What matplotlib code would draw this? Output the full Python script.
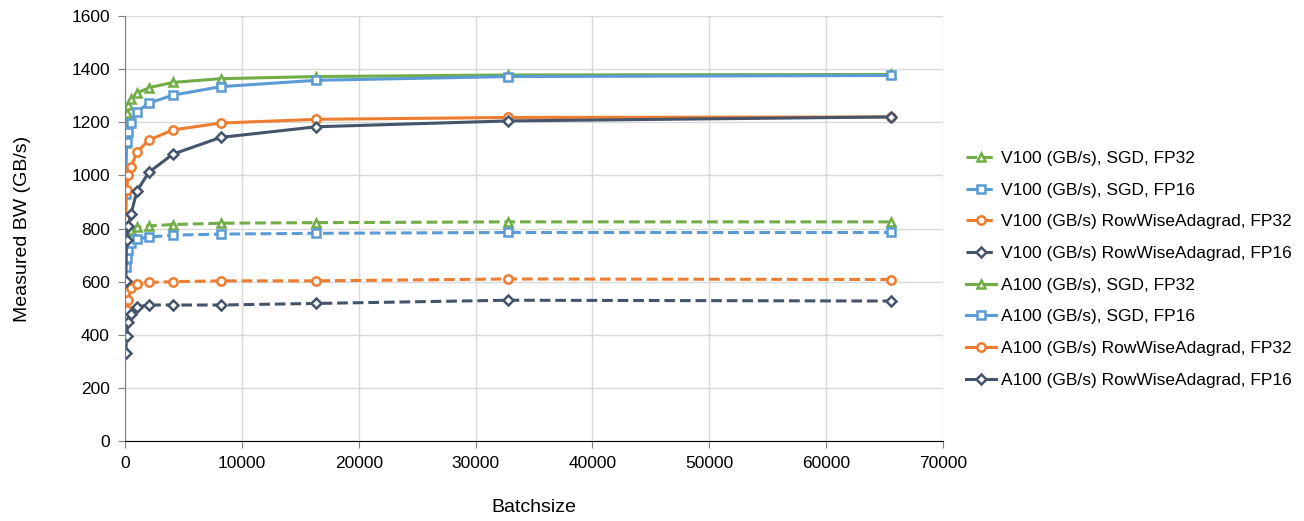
import matplotlib
matplotlib.use("Agg")
import matplotlib.pyplot as plt

plt.rcParams["font.family"] = ["Liberation Sans", "DejaVu Sans"]

batch = [64, 128, 256, 512, 1024, 2048, 4096, 8192, 16384, 32768, 65536]

v100_sgd_fp32 = [745, 772, 790, 796, 805, 810, 815, 820, 822, 825, 825]
v100_sgd_fp16 = [655, 690, 720, 745, 760, 768, 775, 779, 782, 785, 785]
v100_rwa_fp32 = [470, 495, 530, 575, 590, 597, 600, 603, 603, 610, 608]
v100_rwa_fp16 = [331, 395, 448, 478, 505, 512, 512, 512, 518, 530, 527]
a100_sgd_fp32 = [1122, 1235, 1265, 1288, 1310, 1330, 1350, 1364, 1372, 1378, 1380]
a100_sgd_fp16 = [930, 1127, 1165, 1198, 1240, 1272, 1302, 1334, 1358, 1372, 1376]
a100_rwa_fp32 = [835, 945, 1000, 1031, 1088, 1133, 1171, 1197, 1211, 1218, 1220]
a100_rwa_fp16 = [603, 757, 810, 855, 942, 1012, 1080, 1143, 1183, 1205, 1220]

green = "#70AD47"
blue = "#5B9BD5"
orange = "#ED7D31"
dark = "#44546A"

series = [
    ("V100 (GB/s), SGD, FP32", v100_sgd_fp32, green, "^", "--"),
    ("V100 (GB/s), SGD, FP16", v100_sgd_fp16, blue, "s", "--"),
    ("V100 (GB/s) RowWiseAdagrad, FP32", v100_rwa_fp32, orange, "o", "--"),
    ("V100 (GB/s) RowWiseAdagrad, FP16", v100_rwa_fp16, dark, "D", "--"),
    ("A100 (GB/s), SGD, FP32", a100_sgd_fp32, green, "^", "-"),
    ("A100 (GB/s), SGD, FP16", a100_sgd_fp16, blue, "s", "-"),
    ("A100 (GB/s) RowWiseAdagrad, FP32", a100_rwa_fp32, orange, "o", "-"),
    ("A100 (GB/s) RowWiseAdagrad, FP16", a100_rwa_fp16, dark, "D", "-"),
]

fig = plt.figure(figsize=(13.04, 5.21), dpi=100)
ax = fig.add_axes([0.0959, 0.1535, 0.6271, 0.8158])

for label, vals, color, marker, ls in series:
    ms = 6 if marker != "D" else 5
    line, = ax.plot(batch, vals, color=color, linestyle=ls, linewidth=2.2,
                    marker=marker, markersize=ms, markerfacecolor="white",
                    markeredgecolor=color, markeredgewidth=1.8, label=label)
    if ls == "--":
        line.set_dashes((3.5, 1.6))

ax.set_xlim(0, 70000)
ax.set_ylim(0, 1600)
ax.set_xticks(range(0, 70001, 10000))
ax.set_yticks(range(0, 1601, 200))
ax.grid(True, color="#D9D9D9", linewidth=1)
ax.set_axisbelow(True)
for s in ["top", "right"]:
    ax.spines[s].set_visible(False)
ax.spines["left"].set_color("#7F7F7F")
ax.spines["bottom"].set_color("black")
ax.tick_params(axis="both", labelsize=12.5, length=5, color="#7F7F7F", pad=6)
ax.set_xlabel("Batchsize", fontsize=14)
ax.set_ylabel("Measured BW (GB/s)", fontsize=14)
ax.xaxis.set_label_coords(0.5, -0.137)
ax.yaxis.set_label_coords(-0.1145, 0.5)

fig.legend(loc="center left", bbox_to_anchor=(0.729, 0.483), frameon=False,
           fontsize=12.5, labelspacing=0.95, handlelength=1.7, handletextpad=0.3)

fig.savefig("out.png", dpi=100)
